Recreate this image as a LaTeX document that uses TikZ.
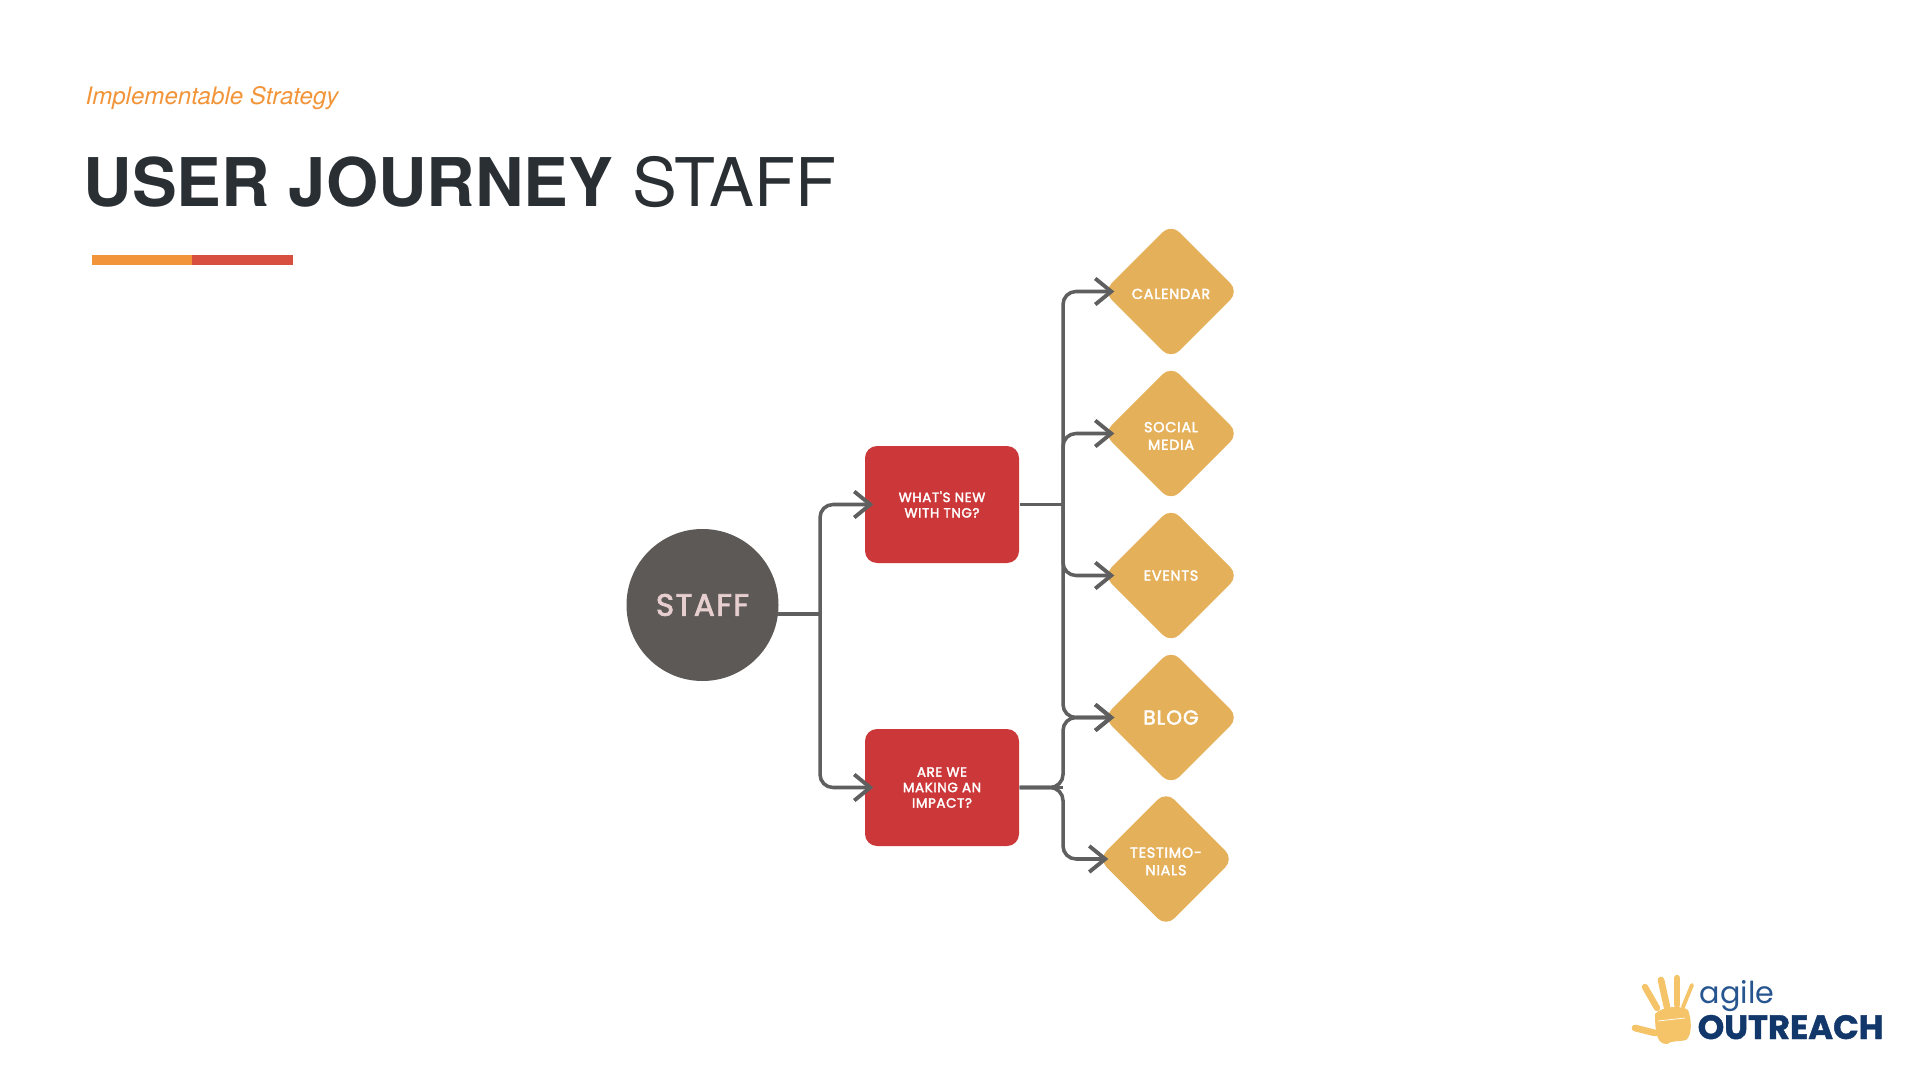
\documentclass[tikz,border=0pt]{standalone}
\usepackage{fontspec}
\setmainfont{TeX Gyre Heros}
\usetikzlibrary{arrows.meta}
\usetikzlibrary{calc}
\usetikzlibrary{shapes.geometric}
\newfontfamily\shapefont[LetterSpace=5,FakeBold=2.5]{Poppins}
\newfontfamily\agilefont{Poppins}
\newfontfamily\outreachfont[FakeBold=1.2]{Poppins Bold}
\definecolor{ink}{HTML}{2A2F33}
\definecolor{og}{HTML}{F2953A}
\definecolor{rd}{HTML}{D84E3F}
\definecolor{bx}{HTML}{CC3839}
\definecolor{gd}{HTML}{E5B05A}
\definecolor{cr}{HTML}{5D5957}
\definecolor{ln}{HTML}{5F5F5F}
\definecolor{pk}{HTML}{E8CFCF}
\definecolor{hd}{HTML}{F5C469}
\definecolor{na}{HTML}{12376B}
\definecolor{bl}{HTML}{27558F}
\newcommand{\gemdrop}{\rule{0pt}{1.5mm}}
\tikzset{
  boxnode/.style={draw=none, fill=bx, rounded corners=0.12cm, minimum width=1.54cm, minimum height=1.17cm, inner sep=0, align=center, text=white, font=\shapefont\fontsize{3.8pt}{4.41pt}\selectfont},
  gemnode/.style={shape=diamond, aspect=1, fill=gd, rounded corners=0.12cm, minimum width=1.36cm, minimum height=1.36cm, inner sep=0, align=center, text=white, font=\shapefont\fontsize{4.1pt}{5pt}\selectfont},
  link/.style={draw=ln, line width=1pt, rounded corners=0.13cm},
  linkto/.style={link, -{Straight Barb[length=1.6mm, width=2.6mm, line width=1.1pt]}},
  fing/.style={draw=hd, line cap=round}
}

\begin{document}
\begin{tikzpicture}
  \useasboundingbox (0,0) rectangle (19.2,-10.8);
  \fill[white] (0,0) rectangle (19.2,-10.8);

  % heading
  \node[anchor=base west, inner sep=0, text=og, font=\itshape\fontsize{6.85pt}{8pt}\selectfont] (subtitle) at (0.85,-1.05) {Implementable Strategy};
  \node[anchor=base west, inner sep=0, text=ink, font=\fontsize{19.1pt}{24pt}\selectfont] (title) at (0.83,-2.07) {\textbf{USER JOURNEY} STAFF};
  \fill[og] (0.92,-2.55) rectangle (1.92,-2.65);
  \fill[rd] (1.92,-2.55) rectangle (2.93,-2.65);

  % nodes
  \node[circle, fill=cr, minimum size=1.52cm, inner sep=0, text=pk, font=\shapefont\fontsize{8.8pt}{10pt}\selectfont] (staff) at (7.025,-6.05) {STAFF};
  \node[boxnode] (whatsnew) at (9.42,-5.045) {WHAT'S NEW\\WITH TNG?};
  \node[boxnode] (impact) at (9.42,-7.875) {ARE WE\\MAKING AN\\IMPACT?};
  \node[gemnode] (calendar) at (11.71,-2.915) {\gemdrop CALENDAR};
  \node[gemnode] (social) at (11.71,-4.335) {\gemdrop SOCIAL\\MEDIA};
  \node[gemnode] (events) at (11.71,-5.755) {EVENTS};
  \node[gemnode, font=\shapefont\fontsize{5.7pt}{7pt}\selectfont] (blog) at (11.71,-7.175) {BLOG};
  \node[gemnode] (testimonials) at (11.66,-8.59) {\gemdrop TESTIMO-\\NIALS};

  % junctions
  \coordinate (staffout) at ($(staff.east)+(-0.02,-0.09)$);
  \coordinate (hubleft) at (8.2,-6.14);
  \coordinate (hubup) at (10.63,-5.045);
  \coordinate (hubdown) at (10.63,-7.875);

  % connectors
  \draw[link] (staffout) -- (hubleft);
  \draw[linkto] (hubleft) |- ($(whatsnew.west)+(0.09,0)$);
  \draw[linkto] (hubleft) |- ($(impact.west)+(0.09,0)$);
  \draw[link] (whatsnew.east) -- (hubup);
  \draw[link] (impact.east) -- (hubdown);
  \draw[linkto] (hubup) |- ($(calendar.west)+(0.12,0)$);
  \draw[linkto] (hubup) |- ($(social.west)+(0.12,0)$);
  \draw[linkto] (hubup) |- ($(events.west)+(0.12,0)$);
  \draw[linkto] (hubup) |- ($(blog.west)+(0.12,0)$);
  \draw[linkto] (impact.east) -- (hubdown) |- ($(blog.west)+(0.12,0)$);
  \draw[linkto] (impact.east) -- (hubdown) |- ($(testimonials.west)+(0.11,0)$);

  % logo
  \draw[fing, line width=1.8pt] (16.45,-9.87) -- (16.57,-10.08);
  \draw[fing, line width=1.9pt] (16.61,-9.80) -- (16.67,-10.07);
  \draw[fing, line width=1.8pt] (16.77,-9.78) -- (16.77,-10.05);
  \draw[fing, line width=1.1pt] (16.92,-9.85) -- (16.83,-10.07);
  \draw[fing, line width=1.9pt] (16.35,-10.28) -- (16.55,-10.33);
  \fill[hd] (16.55,-10.14) .. controls (16.62,-10.06) and (16.82,-10.05) .. (16.88,-10.10) .. controls (16.92,-10.2) and (16.92,-10.36) .. (16.86,-10.40) .. controls (16.8,-10.42) and (16.72,-10.4) .. (16.67,-10.44) .. controls (16.58,-10.44) and (16.55,-10.36) .. (16.55,-10.14);
  \draw[white, line width=0.2pt] (16.58,-10.21) -- (16.85,-10.18);
  \node[anchor=base west, inner sep=0, text=bl, font=\agilefont\fontsize{8.6pt}{10pt}\selectfont] (agile) at (16.99,-10.03) {agile};
  \node[anchor=base west, inner sep=0, text=na, font=\outreachfont\fontsize{9.6pt}{11pt}\selectfont] (outreach) at (16.97,-10.39) {OUTREACH};
\end{tikzpicture}
\end{document}
